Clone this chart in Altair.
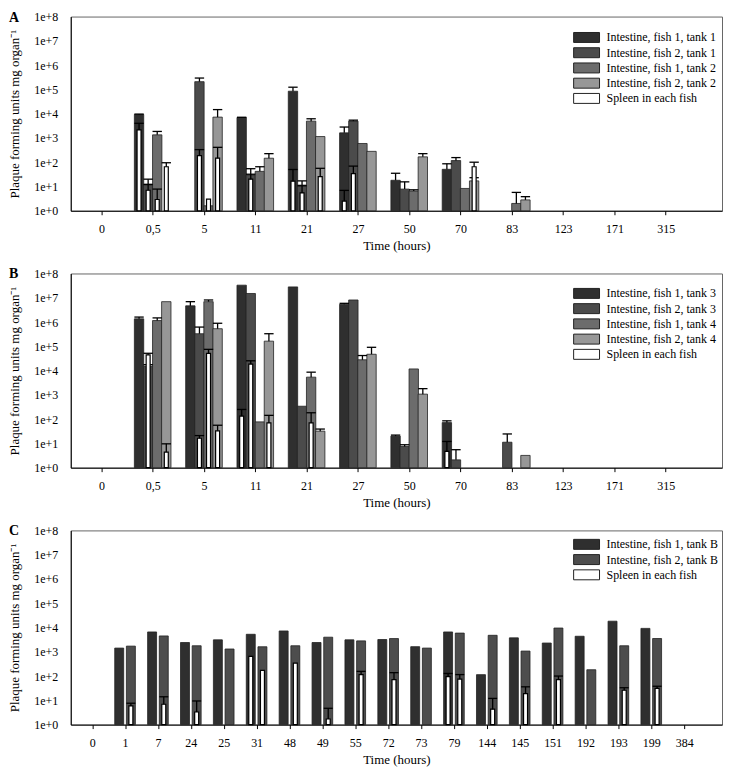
import json
import altair as alt
import pandas as pd

FONT = "Liberation Serif"
N = None
SPLEEN = "Spleen in each fish"

# ---------------- Panel A ----------------
cats_ab = ["0", "0,5", "5", "11", "21", "27", "50", "70", "83", "123", "171", "315"]
series_a = ["Intestine, fish 1, tank 1", "Intestine, fish 2, tank 1",
            "Intestine, fish 1, tank 2", "Intestine, fish 2, tank 2"]
a_int = [
    [N, 9200, N, 6950, 84000, 1620, 18, 51, N, N, N, N],
    [N, 12.5, 208000, 30, 11.4, 4930, 7.8, 117, N, N, N, N],
    [N, 1340, 1.6, 42, 4920, 590, 6.5, 8.3, 2.0, N, N, N],
    [N, N, 7200, 146, 1140, 280, 166, 17, 2.8, N, N, N],
]
a_int_err = [
    [N, 9600, N, 7100, 123000, 2810, 35, 86, N, N, N, N],
    [N, 20, 293000, 54, 17, 5400, 15.5, 155, N, N, N, N],
    [N, 1850, N, 65, 6150, N, 7.3, N, 5.7, N, N, N],
    [N, N, 14700, 225, N, N, 225, 23, 3.8, N, N, N],
]
a_spl = [
    [N, 2130, N, N, 16.5, 2.5, N, N, N, N, N, N],
    [N, 7, 188, 20, 5.4, 34, N, N, N, N, N, N],
    [N, 2.9, 3.0, N, N, N, N, N, N, N, N, N],
    [N, 65, 146, N, 25.6, N, N, 65, N, N, N, N],
]
a_spl_err = [
    [N, 4000, N, N, 50, 6.9, N, N, N, N, N, N],
    [N, 12, 330, 32, 10.7, 69, N, N, N, N, N, N],
    [N, 7.8, N, N, N, N, N, N, N, N, N, N],
    [N, 95, 410, N, 56, N, N, 100, N, N, N, N],
]

# ---------------- Panel B ----------------
series_b = ["Intestine, fish 1, tank 3", "Intestine, fish 2, tank 3",
            "Intestine, fish 1, tank 4", "Intestine, fish 2, tank 4"]
b_int = [
    [N, 1.35e6, 4.65e6, 3.3e7, 2.8e7, 5.4e6, 20, 72, N, N, N, N],
    [N, 15000, 3.3e5, 1.5e7, 340, 8.1e6, 7.5, 2.1, 11.2, N, N, N],
    [N, 1.15e6, 6.9e6, 77, 5360, 27800, 11700, N, N, N, N, N],
    [N, 6.9e6, 5.3e5, 1.63e5, 32, 47000, 1070, N, 3.2, N, N, N],
]
b_int_err = [
    [N, 1.6e6, 6.9e6, N, N, 5.9e6, 22, 85, N, N, N, N],
    [N, 17500, 6.2e5, N, N, N, 8.8, 5.5, 24.5, N, N, N],
    [N, 1.48e6, 8.1e6, N, 8600, 41700, N, N, N, N, N, N],
    [N, N, 8.9e5, 3.3e5, 39, 91000, 1800, N, N, N, N, N],
]
b_spl = [
    [N, N, N, 134, N, N, N, 4.7, N, N, N, N],
    [N, 44600, 16.3, 18600, N, N, N, N, N, N, N, N],
    [N, N, 51600, N, 70, N, N, N, N, N, N, N],
    [N, 4.4, 33, 70, N, N, N, N, N, N, N, N],
]
b_spl_err = [
    [N, N, N, 250, N, N, N, 12, N, N, N, N],
    [N, 51600, 21, 25300, N, N, N, N, N, N, N, N],
    [N, N, 75000, N, 183, N, N, N, N, N, N, N],
    [N, 9.6, 56, 143, N, N, N, N, N, N, N, N],
]

# ---------------- Panel C ----------------
cats_c = ["0", "1", "7", "24", "25", "31", "48", "49", "55", "72", "73", "79",
          "144", "145", "151", "192", "193", "199", "384"]
series_c = ["Intestine, fish 1, tank B", "Intestine, fish 2, tank B"]
c_int = [
    [N, 1420, 6560, 2410, 3100, 5250, 7200, 2410, 3100, 3200, 1620, 6560,
     114, 3740, 2290, 4360, 18200, 9200, N],
    [N, 1710, 4500, 1770, 1300, 1610, 1770, 3990, 2810, 3500, 1420, 5880,
     4770, 1070, 9500, 182, 1770, 3520, N],
]
c_int_err = [[N] * 19, [N] * 19]
c_spl = [
    [N, N, N, N, N, 650, N, N, N, N, N, 94, N, N, N, N, N, N, N],
    [N, 5.9, 6.9, 3.3, N, 170, 340, 1.7, 114, 71, N, 75, 4.3, 19, 71, N, 26, 31, N],
]
c_spl_err = [
    [N, N, N, N, N, N, N, N, N, N, N, 128, N, N, N, N, N, N, N],
    [N, 7.6, 14, 9.4, N, N, N, 4.7, 156, 138, N, 115, 12, 36, 100, N, 33, 38, N],
]

colors4 = ["#2f2f2f", "#4b4b4b", "#6c6c6c", "#979797"]
colors2 = ["#2f2f2f", "#4d4d4d"]


def build(cats, series, ints, ints_err, spl, spl_err):
    rows = []
    for s, name in enumerate(series):
        for i in range(len(cats)):
            if ints[s][i] is not None:
                rows.append(dict(slot=s, idx=i, kind="int", color=name,
                                 value=ints[s][i], err=ints_err[s][i]))
            if spl[s][i] is not None:
                rows.append(dict(slot=s, idx=i, kind="spl", color=SPLEEN,
                                 value=spl[s][i], err=spl_err[s][i]))
    return pd.DataFrame(rows)


W = 654
H = 195


def panel(letter, cats, series, colors, df, xmax, slot_w, bar_w, leg_y):
    nslot = len(series)
    c = (nslot - 1) / 2
    base = alt.Chart(df).transform_calculate(
        pos=f"datum.idx + (datum.slot - {c}) * {slot_w}"
    )
    xenc = alt.X(
        "pos:Q",
        scale=alt.Scale(domain=[-0.5, xmax], nice=False, zero=False),
        axis=alt.Axis(values=list(range(len(cats))),
                      labelExpr=f"{json.dumps(cats)}[datum.value]",
                      title="Time (hours)", grid=False, tickSize=4,
                      labelPadding=9, titlePadding=5,
                      labelOverlap=False, labelFlush=False),
    )

    def yenc(field):
        return alt.Y(
            f"{field}:Q",
            scale=alt.Scale(type="log", domain=[1, 1e8], nice=False),
            axis=alt.Axis(values=[10 ** k for k in range(9)],
                          labelExpr="'1e+' + format(log(datum.value)/LN10, '.0f')",
                          title="Plaque forming units mg organ\u207b\u00b9",
                          ticks=False, grid=False, labelPadding=13,
                          titlePadding=12),
        )

    cenc = alt.Color(
        "color:N",
        scale=alt.Scale(domain=series + [SPLEEN], range=colors + ["#ffffff"]),
        sort=series + [SPLEEN],
        legend=alt.Legend(
            title=None, orient="none", legendX=W - 142, legendY=leg_y,
            symbolType="M-2.6,-1H2.6V1H-2.6Z", symbolSize=100,
            symbolStrokeColor="#222", symbolStrokeWidth=1,
            labelOffset=14, rowPadding=1.3, labelFontSize=12,
            labelFont=FONT, labelColor="black",
        ),
    )

    int_bars = base.transform_filter("datum.kind == 'int'").mark_bar(
        size=bar_w, stroke="#222", strokeWidth=0.8
    ).encode(x=xenc, y=yenc("value"), y2=alt.datum(1), color=cenc)
    int_rule = base.transform_filter(
        "datum.kind == 'int' && isValid(datum.err)"
    ).mark_rule(color="black", strokeWidth=1.3).encode(
        x=xenc, y=yenc("value"), y2="err:Q")
    int_cap = base.transform_filter(
        "datum.kind == 'int' && isValid(datum.err)"
    ).mark_tick(orient="horizontal", size=bar_w, thickness=1.3,
                color="black", opacity=1).encode(x=xenc, y=yenc("err"))
    spl_bars = base.transform_filter("datum.kind == 'spl'").mark_bar(
        size=4, stroke="black", strokeWidth=1.2
    ).encode(x=xenc, y=yenc("value"), y2=alt.datum(1), color=cenc)
    spl_rule = base.transform_filter(
        "datum.kind == 'spl' && isValid(datum.err)"
    ).mark_rule(color="black", strokeWidth=1.3).encode(
        x=xenc, y=yenc("value"), y2="err:Q")
    spl_cap = base.transform_filter(
        "datum.kind == 'spl' && isValid(datum.err)"
    ).mark_tick(orient="horizontal", size=bar_w, thickness=1.3,
                color="black", opacity=1).encode(x=xenc, y=yenc("err"))
    lab = alt.Chart(pd.DataFrame({"t": [letter]})).mark_text(
        font=FONT, fontSize=14, fontWeight="bold", align="left",
        baseline="top", color="black"
    ).encode(text="t:N", x=alt.value(-62), y=alt.value(-6))

    return alt.layer(int_bars, int_rule, int_cap, spl_bars, spl_rule,
                     spl_cap, lab).properties(width=W, height=H)


dfa = build(cats_ab, series_a, a_int, a_int_err, a_spl, a_spl_err)
dfb = build(cats_ab, series_b, b_int, b_int_err, b_spl, b_spl_err)
dfc = build(cats_c, series_c, c_int, c_int_err, c_spl, c_spl_err)

pa = panel("A", cats_ab, series_a, colors4, dfa, 12, 0.177, 9.4, 15)
pb = panel("B", cats_ab, series_b, colors4, dfb, 12, 0.177, 9.4, 14)
pc = panel("C", cats_c, series_c, colors2, dfc, 19, 0.355, 9.0, 8)

chart = alt.vconcat(pa, pb, pc, spacing=13).resolve_scale(
    color="independent"
).properties(
    padding={"left": 0, "top": 0, "right": 2, "bottom": 2}
).configure_view(
    stroke="#666", strokeWidth=1
).configure_axis(
    labelFont=FONT, titleFont=FONT, labelFontSize=12, titleFontSize=13,
    titleFontWeight="normal", labelColor="black", titleColor="black",
    domainColor="black", tickColor="black", domainWidth=1
)

chart.save("out.html", embed_options={"renderer": "svg", "actions": False})
